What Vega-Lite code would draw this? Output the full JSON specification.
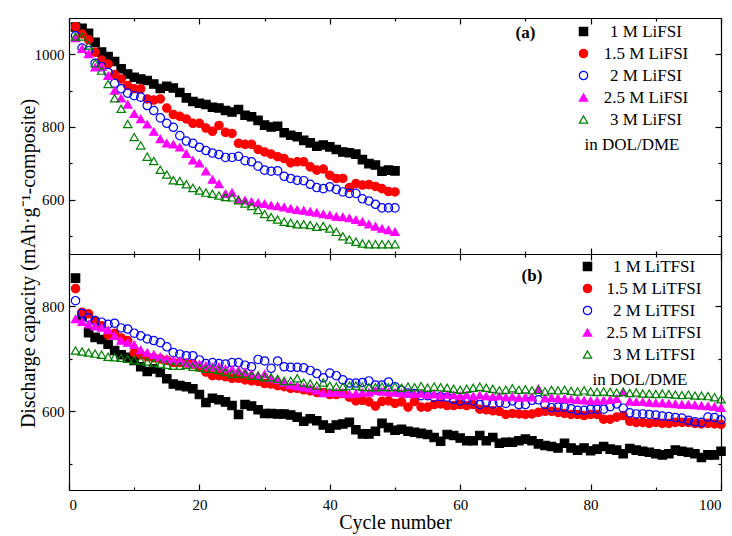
{
"$schema": "https://vega.github.io/schema/vega-lite/v6.json",
"padding": {"left": 18, "top": 17, "right": 5, "bottom": 5},
"background": "white",
"config": {
  "view": {"stroke": null},
  "axis": {"grid": false, "domainColor": "black", "domainWidth": 1.2, "tickColor": "black", "tickWidth": 1.2,
    "labelFont": "Liberation Serif, Times New Roman, serif", "labelFontSize": 15, "labelColor": "black",
    "titleFont": "Liberation Serif, Times New Roman, serif", "titleFontSize": 20, "titleFontWeight": "normal", "titleColor": "black"},
  "legend": {"labelFont": "Liberation Serif, Times New Roman, serif", "labelFontSize": 17, "labelColor": "black", "labelAlign": "center",
    "titleFont": "Liberation Serif, Times New Roman, serif", "titleFontSize": 17, "titleFontWeight": "normal", "titleColor": "black",
    "symbolSize": 70, "symbolStrokeWidth": 1.2, "rowPadding": 4.0, "padding": 0,
    "titleOrient": "bottom", "titlePadding": 9, "titleAnchor": "middle", "orient": "none"}
},
"datasets": {
"a": [
{"series":"1 M LiFSI","cycle":1,"cap":1075},{"series":"1 M LiFSI","cycle":2,"cap":1072},{"series":"1 M LiFSI","cycle":3,"cap":1058},{"series":"1 M LiFSI","cycle":4,"cap":1033},{"series":"1 M LiFSI","cycle":5,"cap":1006},{"series":"1 M LiFSI","cycle":6,"cap":994},{"series":"1 M LiFSI","cycle":7,"cap":980},{"series":"1 M LiFSI","cycle":8,"cap":960},{"series":"1 M LiFSI","cycle":9,"cap":946},{"series":"1 M LiFSI","cycle":10,"cap":937},
{"series":"1 M LiFSI","cycle":11,"cap":932},{"series":"1 M LiFSI","cycle":12,"cap":928},{"series":"1 M LiFSI","cycle":13,"cap":918},{"series":"1 M LiFSI","cycle":14,"cap":906},{"series":"1 M LiFSI","cycle":15,"cap":912},{"series":"1 M LiFSI","cycle":16,"cap":907},{"series":"1 M LiFSI","cycle":17,"cap":895},{"series":"1 M LiFSI","cycle":18,"cap":880},{"series":"1 M LiFSI","cycle":19,"cap":870},{"series":"1 M LiFSI","cycle":20,"cap":865},
{"series":"1 M LiFSI","cycle":21,"cap":862},{"series":"1 M LiFSI","cycle":22,"cap":854},{"series":"1 M LiFSI","cycle":23,"cap":852},{"series":"1 M LiFSI","cycle":24,"cap":845},{"series":"1 M LiFSI","cycle":25,"cap":841},{"series":"1 M LiFSI","cycle":26,"cap":848},{"series":"1 M LiFSI","cycle":27,"cap":832},{"series":"1 M LiFSI","cycle":28,"cap":828},{"series":"1 M LiFSI","cycle":29,"cap":818},{"series":"1 M LiFSI","cycle":30,"cap":805},
{"series":"1 M LiFSI","cycle":31,"cap":800},{"series":"1 M LiFSI","cycle":32,"cap":802},{"series":"1 M LiFSI","cycle":33,"cap":784},{"series":"1 M LiFSI","cycle":34,"cap":777},{"series":"1 M LiFSI","cycle":35,"cap":773},{"series":"1 M LiFSI","cycle":36,"cap":763},{"series":"1 M LiFSI","cycle":37,"cap":756},{"series":"1 M LiFSI","cycle":38,"cap":747},{"series":"1 M LiFSI","cycle":39,"cap":750},{"series":"1 M LiFSI","cycle":40,"cap":745},
{"series":"1 M LiFSI","cycle":41,"cap":738},{"series":"1 M LiFSI","cycle":42,"cap":731},{"series":"1 M LiFSI","cycle":43,"cap":729},{"series":"1 M LiFSI","cycle":44,"cap":725},{"series":"1 M LiFSI","cycle":45,"cap":710},{"series":"1 M LiFSI","cycle":46,"cap":699},{"series":"1 M LiFSI","cycle":47,"cap":695},{"series":"1 M LiFSI","cycle":48,"cap":678},{"series":"1 M LiFSI","cycle":49,"cap":681},{"series":"1 M LiFSI","cycle":50,"cap":679},
{"series":"1.5 M LiFSI","cycle":1,"cap":1076},{"series":"1.5 M LiFSI","cycle":2,"cap":1056},{"series":"1.5 M LiFSI","cycle":3,"cap":1040},{"series":"1.5 M LiFSI","cycle":4,"cap":1006},{"series":"1.5 M LiFSI","cycle":5,"cap":984},{"series":"1.5 M LiFSI","cycle":6,"cap":973},{"series":"1.5 M LiFSI","cycle":7,"cap":944},{"series":"1.5 M LiFSI","cycle":8,"cap":932},{"series":"1.5 M LiFSI","cycle":9,"cap":914},{"series":"1.5 M LiFSI","cycle":10,"cap":905},
{"series":"1.5 M LiFSI","cycle":11,"cap":905},{"series":"1.5 M LiFSI","cycle":12,"cap":877},{"series":"1.5 M LiFSI","cycle":13,"cap":874},{"series":"1.5 M LiFSI","cycle":14,"cap":877},{"series":"1.5 M LiFSI","cycle":15,"cap":852},{"series":"1.5 M LiFSI","cycle":16,"cap":834},{"series":"1.5 M LiFSI","cycle":17,"cap":829},{"series":"1.5 M LiFSI","cycle":18,"cap":822},{"series":"1.5 M LiFSI","cycle":19,"cap":810},{"series":"1.5 M LiFSI","cycle":20,"cap":810},
{"series":"1.5 M LiFSI","cycle":21,"cap":797},{"series":"1.5 M LiFSI","cycle":22,"cap":788},{"series":"1.5 M LiFSI","cycle":23,"cap":804},{"series":"1.5 M LiFSI","cycle":24,"cap":785},{"series":"1.5 M LiFSI","cycle":25,"cap":782},{"series":"1.5 M LiFSI","cycle":26,"cap":755},{"series":"1.5 M LiFSI","cycle":27,"cap":752},{"series":"1.5 M LiFSI","cycle":28,"cap":752},{"series":"1.5 M LiFSI","cycle":29,"cap":738},{"series":"1.5 M LiFSI","cycle":30,"cap":731},
{"series":"1.5 M LiFSI","cycle":31,"cap":725},{"series":"1.5 M LiFSI","cycle":32,"cap":718},{"series":"1.5 M LiFSI","cycle":33,"cap":713},{"series":"1.5 M LiFSI","cycle":34,"cap":701},{"series":"1.5 M LiFSI","cycle":35,"cap":704},{"series":"1.5 M LiFSI","cycle":36,"cap":704},{"series":"1.5 M LiFSI","cycle":37,"cap":690},{"series":"1.5 M LiFSI","cycle":38,"cap":681},{"series":"1.5 M LiFSI","cycle":39,"cap":684},{"series":"1.5 M LiFSI","cycle":40,"cap":667},
{"series":"1.5 M LiFSI","cycle":41,"cap":658},{"series":"1.5 M LiFSI","cycle":42,"cap":658},{"series":"1.5 M LiFSI","cycle":43,"cap":633},{"series":"1.5 M LiFSI","cycle":44,"cap":644},{"series":"1.5 M LiFSI","cycle":45,"cap":640},{"series":"1.5 M LiFSI","cycle":46,"cap":641},{"series":"1.5 M LiFSI","cycle":47,"cap":636},{"series":"1.5 M LiFSI","cycle":48,"cap":630},{"series":"1.5 M LiFSI","cycle":49,"cap":622},{"series":"1.5 M LiFSI","cycle":50,"cap":621},
{"series":"2 M LiFSI","cycle":1,"cap":1051},{"series":"2 M LiFSI","cycle":2,"cap":1017},{"series":"2 M LiFSI","cycle":3,"cap":1010},{"series":"2 M LiFSI","cycle":4,"cap":975},{"series":"2 M LiFSI","cycle":5,"cap":966},{"series":"2 M LiFSI","cycle":6,"cap":950},{"series":"2 M LiFSI","cycle":7,"cap":920},{"series":"2 M LiFSI","cycle":8,"cap":905},{"series":"2 M LiFSI","cycle":9,"cap":893},{"series":"2 M LiFSI","cycle":10,"cap":886},
{"series":"2 M LiFSI","cycle":11,"cap":882},{"series":"2 M LiFSI","cycle":12,"cap":859},{"series":"2 M LiFSI","cycle":13,"cap":845},{"series":"2 M LiFSI","cycle":14,"cap":825},{"series":"2 M LiFSI","cycle":15,"cap":810},{"series":"2 M LiFSI","cycle":16,"cap":799},{"series":"2 M LiFSI","cycle":17,"cap":776},{"series":"2 M LiFSI","cycle":18,"cap":761},{"series":"2 M LiFSI","cycle":19,"cap":755},{"series":"2 M LiFSI","cycle":20,"cap":744},
{"series":"2 M LiFSI","cycle":21,"cap":735},{"series":"2 M LiFSI","cycle":22,"cap":728},{"series":"2 M LiFSI","cycle":23,"cap":724},{"series":"2 M LiFSI","cycle":24,"cap":716},{"series":"2 M LiFSI","cycle":25,"cap":716},{"series":"2 M LiFSI","cycle":26,"cap":719},{"series":"2 M LiFSI","cycle":27,"cap":707},{"series":"2 M LiFSI","cycle":28,"cap":704},{"series":"2 M LiFSI","cycle":29,"cap":692},{"series":"2 M LiFSI","cycle":30,"cap":681},
{"series":"2 M LiFSI","cycle":31,"cap":678},{"series":"2 M LiFSI","cycle":32,"cap":679},{"series":"2 M LiFSI","cycle":33,"cap":664},{"series":"2 M LiFSI","cycle":34,"cap":658},{"series":"2 M LiFSI","cycle":35,"cap":653},{"series":"2 M LiFSI","cycle":36,"cap":652},{"series":"2 M LiFSI","cycle":37,"cap":642},{"series":"2 M LiFSI","cycle":38,"cap":633},{"series":"2 M LiFSI","cycle":39,"cap":630},{"series":"2 M LiFSI","cycle":40,"cap":635},
{"series":"2 M LiFSI","cycle":41,"cap":628},{"series":"2 M LiFSI","cycle":42,"cap":621},{"series":"2 M LiFSI","cycle":43,"cap":617},{"series":"2 M LiFSI","cycle":44,"cap":617},{"series":"2 M LiFSI","cycle":45,"cap":602},{"series":"2 M LiFSI","cycle":46,"cap":596},{"series":"2 M LiFSI","cycle":47,"cap":587},{"series":"2 M LiFSI","cycle":48,"cap":577},{"series":"2 M LiFSI","cycle":49,"cap":577},{"series":"2 M LiFSI","cycle":50,"cap":577},
{"series":"2.5 M LiFSI","cycle":1,"cap":1045},{"series":"2.5 M LiFSI","cycle":2,"cap":1015},{"series":"2.5 M LiFSI","cycle":3,"cap":1001},{"series":"2.5 M LiFSI","cycle":4,"cap":964},{"series":"2.5 M LiFSI","cycle":5,"cap":966},{"series":"2.5 M LiFSI","cycle":6,"cap":941},{"series":"2.5 M LiFSI","cycle":7,"cap":900},{"series":"2.5 M LiFSI","cycle":8,"cap":879},{"series":"2.5 M LiFSI","cycle":9,"cap":862},{"series":"2.5 M LiFSI","cycle":10,"cap":836},
{"series":"2.5 M LiFSI","cycle":11,"cap":822},{"series":"2.5 M LiFSI","cycle":12,"cap":807},{"series":"2.5 M LiFSI","cycle":13,"cap":787},{"series":"2.5 M LiFSI","cycle":14,"cap":767},{"series":"2.5 M LiFSI","cycle":15,"cap":755},{"series":"2.5 M LiFSI","cycle":16,"cap":752},{"series":"2.5 M LiFSI","cycle":17,"cap":744},{"series":"2.5 M LiFSI","cycle":18,"cap":726},{"series":"2.5 M LiFSI","cycle":19,"cap":708},{"series":"2.5 M LiFSI","cycle":20,"cap":700},
{"series":"2.5 M LiFSI","cycle":21,"cap":678},{"series":"2.5 M LiFSI","cycle":22,"cap":655},{"series":"2.5 M LiFSI","cycle":23,"cap":643},{"series":"2.5 M LiFSI","cycle":24,"cap":616},{"series":"2.5 M LiFSI","cycle":25,"cap":619},{"series":"2.5 M LiFSI","cycle":26,"cap":600},{"series":"2.5 M LiFSI","cycle":27,"cap":598},{"series":"2.5 M LiFSI","cycle":28,"cap":594},{"series":"2.5 M LiFSI","cycle":29,"cap":591},{"series":"2.5 M LiFSI","cycle":30,"cap":588},
{"series":"2.5 M LiFSI","cycle":31,"cap":584},{"series":"2.5 M LiFSI","cycle":32,"cap":582},{"series":"2.5 M LiFSI","cycle":33,"cap":579},{"series":"2.5 M LiFSI","cycle":34,"cap":575},{"series":"2.5 M LiFSI","cycle":35,"cap":572},{"series":"2.5 M LiFSI","cycle":36,"cap":570},{"series":"2.5 M LiFSI","cycle":37,"cap":567},{"series":"2.5 M LiFSI","cycle":38,"cap":564},{"series":"2.5 M LiFSI","cycle":39,"cap":560},{"series":"2.5 M LiFSI","cycle":40,"cap":557},
{"series":"2.5 M LiFSI","cycle":41,"cap":553},{"series":"2.5 M LiFSI","cycle":42,"cap":552},{"series":"2.5 M LiFSI","cycle":43,"cap":549},{"series":"2.5 M LiFSI","cycle":44,"cap":544},{"series":"2.5 M LiFSI","cycle":45,"cap":539},{"series":"2.5 M LiFSI","cycle":46,"cap":532},{"series":"2.5 M LiFSI","cycle":47,"cap":526},{"series":"2.5 M LiFSI","cycle":48,"cap":520},{"series":"2.5 M LiFSI","cycle":49,"cap":516},{"series":"2.5 M LiFSI","cycle":50,"cap":511},
{"series":"3 M LiFSI","cycle":1,"cap":1049},{"series":"3 M LiFSI","cycle":2,"cap":1049},{"series":"3 M LiFSI","cycle":3,"cap":1024},{"series":"3 M LiFSI","cycle":4,"cap":975},{"series":"3 M LiFSI","cycle":5,"cap":955},{"series":"3 M LiFSI","cycle":6,"cap":918},{"series":"3 M LiFSI","cycle":7,"cap":879},{"series":"3 M LiFSI","cycle":8,"cap":850},{"series":"3 M LiFSI","cycle":9,"cap":808},{"series":"3 M LiFSI","cycle":10,"cap":772},
{"series":"3 M LiFSI","cycle":11,"cap":749},{"series":"3 M LiFSI","cycle":12,"cap":718},{"series":"3 M LiFSI","cycle":13,"cap":706},{"series":"3 M LiFSI","cycle":14,"cap":682},{"series":"3 M LiFSI","cycle":15,"cap":669},{"series":"3 M LiFSI","cycle":16,"cap":653},{"series":"3 M LiFSI","cycle":17,"cap":651},{"series":"3 M LiFSI","cycle":18,"cap":642},{"series":"3 M LiFSI","cycle":19,"cap":632},{"series":"3 M LiFSI","cycle":20,"cap":625},
{"series":"3 M LiFSI","cycle":21,"cap":619},{"series":"3 M LiFSI","cycle":22,"cap":616},{"series":"3 M LiFSI","cycle":23,"cap":611},{"series":"3 M LiFSI","cycle":24,"cap":607},{"series":"3 M LiFSI","cycle":25,"cap":606},{"series":"3 M LiFSI","cycle":26,"cap":598},{"series":"3 M LiFSI","cycle":27,"cap":589},{"series":"3 M LiFSI","cycle":28,"cap":582},{"series":"3 M LiFSI","cycle":29,"cap":571},{"series":"3 M LiFSI","cycle":30,"cap":560},
{"series":"3 M LiFSI","cycle":31,"cap":552},{"series":"3 M LiFSI","cycle":32,"cap":545},{"series":"3 M LiFSI","cycle":33,"cap":539},{"series":"3 M LiFSI","cycle":34,"cap":536},{"series":"3 M LiFSI","cycle":35,"cap":532},{"series":"3 M LiFSI","cycle":36,"cap":532},{"series":"3 M LiFSI","cycle":37,"cap":530},{"series":"3 M LiFSI","cycle":38,"cap":525},{"series":"3 M LiFSI","cycle":39,"cap":527},{"series":"3 M LiFSI","cycle":40,"cap":520},
{"series":"3 M LiFSI","cycle":41,"cap":511},{"series":"3 M LiFSI","cycle":42,"cap":499},{"series":"3 M LiFSI","cycle":43,"cap":490},{"series":"3 M LiFSI","cycle":44,"cap":484},{"series":"3 M LiFSI","cycle":45,"cap":479},{"series":"3 M LiFSI","cycle":46,"cap":477},{"series":"3 M LiFSI","cycle":47,"cap":477},{"series":"3 M LiFSI","cycle":48,"cap":477},{"series":"3 M LiFSI","cycle":49,"cap":477},{"series":"3 M LiFSI","cycle":50,"cap":477}
],
"b": [
{"series":"1 M LiTFSI","cycle":1,"cap":854},{"series":"1 M LiTFSI","cycle":2,"cap":782},{"series":"1 M LiTFSI","cycle":3,"cap":750},{"series":"1 M LiTFSI","cycle":4,"cap":741},{"series":"1 M LiTFSI","cycle":5,"cap":737},{"series":"1 M LiTFSI","cycle":6,"cap":728},{"series":"1 M LiTFSI","cycle":7,"cap":716},{"series":"1 M LiTFSI","cycle":8,"cap":708},{"series":"1 M LiTFSI","cycle":9,"cap":703},{"series":"1 M LiTFSI","cycle":10,"cap":697},
{"series":"1 M LiTFSI","cycle":11,"cap":685},{"series":"1 M LiTFSI","cycle":12,"cap":676},{"series":"1 M LiTFSI","cycle":13,"cap":681},{"series":"1 M LiTFSI","cycle":14,"cap":674},{"series":"1 M LiTFSI","cycle":15,"cap":662},{"series":"1 M LiTFSI","cycle":16,"cap":652},{"series":"1 M LiTFSI","cycle":17,"cap":649},{"series":"1 M LiTFSI","cycle":18,"cap":647},{"series":"1 M LiTFSI","cycle":19,"cap":643},{"series":"1 M LiTFSI","cycle":20,"cap":632},
{"series":"1 M LiTFSI","cycle":21,"cap":617},{"series":"1 M LiTFSI","cycle":22,"cap":625},{"series":"1 M LiTFSI","cycle":23,"cap":622},{"series":"1 M LiTFSI","cycle":24,"cap":618},{"series":"1 M LiTFSI","cycle":25,"cap":611},{"series":"1 M LiTFSI","cycle":26,"cap":594},{"series":"1 M LiTFSI","cycle":27,"cap":613},{"series":"1 M LiTFSI","cycle":28,"cap":610},{"series":"1 M LiTFSI","cycle":29,"cap":603},{"series":"1 M LiTFSI","cycle":30,"cap":596},
{"series":"1 M LiTFSI","cycle":31,"cap":596},{"series":"1 M LiTFSI","cycle":32,"cap":595},{"series":"1 M LiTFSI","cycle":33,"cap":595},{"series":"1 M LiTFSI","cycle":34,"cap":593},{"series":"1 M LiTFSI","cycle":35,"cap":589},{"series":"1 M LiTFSI","cycle":36,"cap":581},{"series":"1 M LiTFSI","cycle":37,"cap":586},{"series":"1 M LiTFSI","cycle":38,"cap":582},{"series":"1 M LiTFSI","cycle":39,"cap":574},{"series":"1 M LiTFSI","cycle":40,"cap":568},
{"series":"1 M LiTFSI","cycle":41,"cap":574},{"series":"1 M LiTFSI","cycle":42,"cap":576},{"series":"1 M LiTFSI","cycle":43,"cap":579},{"series":"1 M LiTFSI","cycle":44,"cap":565},{"series":"1 M LiTFSI","cycle":45,"cap":557},{"series":"1 M LiTFSI","cycle":46,"cap":557},{"series":"1 M LiTFSI","cycle":47,"cap":562},{"series":"1 M LiTFSI","cycle":48,"cap":577},{"series":"1 M LiTFSI","cycle":49,"cap":569},{"series":"1 M LiTFSI","cycle":50,"cap":564},
{"series":"1 M LiTFSI","cycle":51,"cap":566},{"series":"1 M LiTFSI","cycle":52,"cap":562},{"series":"1 M LiTFSI","cycle":53,"cap":560},{"series":"1 M LiTFSI","cycle":54,"cap":558},{"series":"1 M LiTFSI","cycle":55,"cap":556},{"series":"1 M LiTFSI","cycle":56,"cap":550},{"series":"1 M LiTFSI","cycle":57,"cap":543},{"series":"1 M LiTFSI","cycle":58,"cap":556},{"series":"1 M LiTFSI","cycle":59,"cap":554},{"series":"1 M LiTFSI","cycle":60,"cap":549},
{"series":"1 M LiTFSI","cycle":61,"cap":544},{"series":"1 M LiTFSI","cycle":62,"cap":544},{"series":"1 M LiTFSI","cycle":63,"cap":554},{"series":"1 M LiTFSI","cycle":64,"cap":544},{"series":"1 M LiTFSI","cycle":65,"cap":550},{"series":"1 M LiTFSI","cycle":66,"cap":539},{"series":"1 M LiTFSI","cycle":67,"cap":541},{"series":"1 M LiTFSI","cycle":68,"cap":541},{"series":"1 M LiTFSI","cycle":69,"cap":544},{"series":"1 M LiTFSI","cycle":70,"cap":547},
{"series":"1 M LiTFSI","cycle":71,"cap":544},{"series":"1 M LiTFSI","cycle":72,"cap":538},{"series":"1 M LiTFSI","cycle":73,"cap":535},{"series":"1 M LiTFSI","cycle":74,"cap":533},{"series":"1 M LiTFSI","cycle":75,"cap":530},{"series":"1 M LiTFSI","cycle":76,"cap":539},{"series":"1 M LiTFSI","cycle":77,"cap":530},{"series":"1 M LiTFSI","cycle":78,"cap":526},{"series":"1 M LiTFSI","cycle":79,"cap":530},{"series":"1 M LiTFSI","cycle":80,"cap":525},
{"series":"1 M LiTFSI","cycle":81,"cap":528},{"series":"1 M LiTFSI","cycle":82,"cap":533},{"series":"1 M LiTFSI","cycle":83,"cap":528},{"series":"1 M LiTFSI","cycle":84,"cap":526},{"series":"1 M LiTFSI","cycle":85,"cap":519},{"series":"1 M LiTFSI","cycle":86,"cap":529},{"series":"1 M LiTFSI","cycle":87,"cap":526},{"series":"1 M LiTFSI","cycle":88,"cap":524},{"series":"1 M LiTFSI","cycle":89,"cap":522},{"series":"1 M LiTFSI","cycle":90,"cap":519},
{"series":"1 M LiTFSI","cycle":91,"cap":517},{"series":"1 M LiTFSI","cycle":92,"cap":519},{"series":"1 M LiTFSI","cycle":93,"cap":526},{"series":"1 M LiTFSI","cycle":94,"cap":524},{"series":"1 M LiTFSI","cycle":95,"cap":522},{"series":"1 M LiTFSI","cycle":96,"cap":519},{"series":"1 M LiTFSI","cycle":97,"cap":512},{"series":"1 M LiTFSI","cycle":98,"cap":517},{"series":"1 M LiTFSI","cycle":99,"cap":517},{"series":"1 M LiTFSI","cycle":100,"cap":524},
{"series":"1.5 M LiTFSI","cycle":1,"cap":834},{"series":"1.5 M LiTFSI","cycle":2,"cap":789},{"series":"1.5 M LiTFSI","cycle":3,"cap":786},{"series":"1.5 M LiTFSI","cycle":4,"cap":773},{"series":"1.5 M LiTFSI","cycle":5,"cap":763},{"series":"1.5 M LiTFSI","cycle":6,"cap":746},{"series":"1.5 M LiTFSI","cycle":7,"cap":749},{"series":"1.5 M LiTFSI","cycle":8,"cap":740},{"series":"1.5 M LiTFSI","cycle":9,"cap":735},{"series":"1.5 M LiTFSI","cycle":10,"cap":712},
{"series":"1.5 M LiTFSI","cycle":11,"cap":708},{"series":"1.5 M LiTFSI","cycle":12,"cap":704},{"series":"1.5 M LiTFSI","cycle":13,"cap":702},{"series":"1.5 M LiTFSI","cycle":14,"cap":700},{"series":"1.5 M LiTFSI","cycle":15,"cap":697},{"series":"1.5 M LiTFSI","cycle":16,"cap":693},{"series":"1.5 M LiTFSI","cycle":17,"cap":693},{"series":"1.5 M LiTFSI","cycle":18,"cap":692},{"series":"1.5 M LiTFSI","cycle":19,"cap":690},{"series":"1.5 M LiTFSI","cycle":20,"cap":684},
{"series":"1.5 M LiTFSI","cycle":21,"cap":675},{"series":"1.5 M LiTFSI","cycle":22,"cap":668},{"series":"1.5 M LiTFSI","cycle":23,"cap":668},{"series":"1.5 M LiTFSI","cycle":24,"cap":666},{"series":"1.5 M LiTFSI","cycle":25,"cap":663},{"series":"1.5 M LiTFSI","cycle":26,"cap":663},{"series":"1.5 M LiTFSI","cycle":27,"cap":660},{"series":"1.5 M LiTFSI","cycle":28,"cap":658},{"series":"1.5 M LiTFSI","cycle":29,"cap":657},{"series":"1.5 M LiTFSI","cycle":30,"cap":653},
{"series":"1.5 M LiTFSI","cycle":31,"cap":652},{"series":"1.5 M LiTFSI","cycle":32,"cap":649},{"series":"1.5 M LiTFSI","cycle":33,"cap":647},{"series":"1.5 M LiTFSI","cycle":34,"cap":644},{"series":"1.5 M LiTFSI","cycle":35,"cap":644},{"series":"1.5 M LiTFSI","cycle":36,"cap":641},{"series":"1.5 M LiTFSI","cycle":37,"cap":639},{"series":"1.5 M LiTFSI","cycle":38,"cap":636},{"series":"1.5 M LiTFSI","cycle":39,"cap":636},{"series":"1.5 M LiTFSI","cycle":40,"cap":632},
{"series":"1.5 M LiTFSI","cycle":41,"cap":632},{"series":"1.5 M LiTFSI","cycle":42,"cap":634},{"series":"1.5 M LiTFSI","cycle":43,"cap":627},{"series":"1.5 M LiTFSI","cycle":44,"cap":620},{"series":"1.5 M LiTFSI","cycle":45,"cap":621},{"series":"1.5 M LiTFSI","cycle":46,"cap":618},{"series":"1.5 M LiTFSI","cycle":47,"cap":610},{"series":"1.5 M LiTFSI","cycle":48,"cap":619},{"series":"1.5 M LiTFSI","cycle":49,"cap":620},{"series":"1.5 M LiTFSI","cycle":50,"cap":615},
{"series":"1.5 M LiTFSI","cycle":51,"cap":618},{"series":"1.5 M LiTFSI","cycle":52,"cap":608},{"series":"1.5 M LiTFSI","cycle":53,"cap":619},{"series":"1.5 M LiTFSI","cycle":54,"cap":608},{"series":"1.5 M LiTFSI","cycle":55,"cap":608},{"series":"1.5 M LiTFSI","cycle":56,"cap":613},{"series":"1.5 M LiTFSI","cycle":57,"cap":614},{"series":"1.5 M LiTFSI","cycle":58,"cap":611},{"series":"1.5 M LiTFSI","cycle":59,"cap":611},{"series":"1.5 M LiTFSI","cycle":60,"cap":613},
{"series":"1.5 M LiTFSI","cycle":61,"cap":611},{"series":"1.5 M LiTFSI","cycle":62,"cap":613},{"series":"1.5 M LiTFSI","cycle":63,"cap":604},{"series":"1.5 M LiTFSI","cycle":64,"cap":603},{"series":"1.5 M LiTFSI","cycle":65,"cap":601},{"series":"1.5 M LiTFSI","cycle":66,"cap":600},{"series":"1.5 M LiTFSI","cycle":67,"cap":594},{"series":"1.5 M LiTFSI","cycle":68,"cap":596},{"series":"1.5 M LiTFSI","cycle":69,"cap":595},{"series":"1.5 M LiTFSI","cycle":70,"cap":594},
{"series":"1.5 M LiTFSI","cycle":71,"cap":595},{"series":"1.5 M LiTFSI","cycle":72,"cap":598},{"series":"1.5 M LiTFSI","cycle":73,"cap":600},{"series":"1.5 M LiTFSI","cycle":74,"cap":600},{"series":"1.5 M LiTFSI","cycle":75,"cap":598},{"series":"1.5 M LiTFSI","cycle":76,"cap":596},{"series":"1.5 M LiTFSI","cycle":77,"cap":594},{"series":"1.5 M LiTFSI","cycle":78,"cap":594},{"series":"1.5 M LiTFSI","cycle":79,"cap":592},{"series":"1.5 M LiTFSI","cycle":80,"cap":594},
{"series":"1.5 M LiTFSI","cycle":81,"cap":594},{"series":"1.5 M LiTFSI","cycle":82,"cap":585},{"series":"1.5 M LiTFSI","cycle":83,"cap":585},{"series":"1.5 M LiTFSI","cycle":84,"cap":589},{"series":"1.5 M LiTFSI","cycle":85,"cap":592},{"series":"1.5 M LiTFSI","cycle":86,"cap":581},{"series":"1.5 M LiTFSI","cycle":87,"cap":579},{"series":"1.5 M LiTFSI","cycle":88,"cap":579},{"series":"1.5 M LiTFSI","cycle":89,"cap":577},{"series":"1.5 M LiTFSI","cycle":90,"cap":579},
{"series":"1.5 M LiTFSI","cycle":91,"cap":577},{"series":"1.5 M LiTFSI","cycle":92,"cap":577},{"series":"1.5 M LiTFSI","cycle":93,"cap":579},{"series":"1.5 M LiTFSI","cycle":94,"cap":579},{"series":"1.5 M LiTFSI","cycle":95,"cap":579},{"series":"1.5 M LiTFSI","cycle":96,"cap":577},{"series":"1.5 M LiTFSI","cycle":97,"cap":576},{"series":"1.5 M LiTFSI","cycle":98,"cap":577},{"series":"1.5 M LiTFSI","cycle":99,"cap":576},{"series":"1.5 M LiTFSI","cycle":100,"cap":575},
{"series":"2 M LiTFSI","cycle":1,"cap":811},{"series":"2 M LiTFSI","cycle":2,"cap":787},{"series":"2 M LiTFSI","cycle":3,"cap":778},{"series":"2 M LiTFSI","cycle":4,"cap":773},{"series":"2 M LiTFSI","cycle":5,"cap":770},{"series":"2 M LiTFSI","cycle":6,"cap":766},{"series":"2 M LiTFSI","cycle":7,"cap":768},{"series":"2 M LiTFSI","cycle":8,"cap":759},{"series":"2 M LiTFSI","cycle":9,"cap":757},{"series":"2 M LiTFSI","cycle":10,"cap":749},
{"series":"2 M LiTFSI","cycle":11,"cap":744},{"series":"2 M LiTFSI","cycle":12,"cap":738},{"series":"2 M LiTFSI","cycle":13,"cap":735},{"series":"2 M LiTFSI","cycle":14,"cap":731},{"series":"2 M LiTFSI","cycle":15,"cap":723},{"series":"2 M LiTFSI","cycle":16,"cap":712},{"series":"2 M LiTFSI","cycle":17,"cap":709},{"series":"2 M LiTFSI","cycle":18,"cap":706},{"series":"2 M LiTFSI","cycle":19,"cap":706},{"series":"2 M LiTFSI","cycle":20,"cap":698},
{"series":"2 M LiTFSI","cycle":21,"cap":691},{"series":"2 M LiTFSI","cycle":22,"cap":693},{"series":"2 M LiTFSI","cycle":23,"cap":691},{"series":"2 M LiTFSI","cycle":24,"cap":690},{"series":"2 M LiTFSI","cycle":25,"cap":693},{"series":"2 M LiTFSI","cycle":26,"cap":693},{"series":"2 M LiTFSI","cycle":27,"cap":688},{"series":"2 M LiTFSI","cycle":28,"cap":685},{"series":"2 M LiTFSI","cycle":29,"cap":699},{"series":"2 M LiTFSI","cycle":30,"cap":696},
{"series":"2 M LiTFSI","cycle":31,"cap":682},{"series":"2 M LiTFSI","cycle":32,"cap":696},{"series":"2 M LiTFSI","cycle":33,"cap":685},{"series":"2 M LiTFSI","cycle":34,"cap":684},{"series":"2 M LiTFSI","cycle":35,"cap":684},{"series":"2 M LiTFSI","cycle":36,"cap":683},{"series":"2 M LiTFSI","cycle":37,"cap":678},{"series":"2 M LiTFSI","cycle":38,"cap":672},{"series":"2 M LiTFSI","cycle":39,"cap":664},{"series":"2 M LiTFSI","cycle":40,"cap":673},
{"series":"2 M LiTFSI","cycle":41,"cap":668},{"series":"2 M LiTFSI","cycle":42,"cap":660},{"series":"2 M LiTFSI","cycle":43,"cap":654},{"series":"2 M LiTFSI","cycle":44,"cap":654},{"series":"2 M LiTFSI","cycle":45,"cap":655},{"series":"2 M LiTFSI","cycle":46,"cap":658},{"series":"2 M LiTFSI","cycle":47,"cap":650},{"series":"2 M LiTFSI","cycle":48,"cap":650},{"series":"2 M LiTFSI","cycle":49,"cap":656},{"series":"2 M LiTFSI","cycle":50,"cap":647},
{"series":"2 M LiTFSI","cycle":51,"cap":640},{"series":"2 M LiTFSI","cycle":52,"cap":635},{"series":"2 M LiTFSI","cycle":53,"cap":634},{"series":"2 M LiTFSI","cycle":54,"cap":630},{"series":"2 M LiTFSI","cycle":55,"cap":630},{"series":"2 M LiTFSI","cycle":56,"cap":627},{"series":"2 M LiTFSI","cycle":57,"cap":628},{"series":"2 M LiTFSI","cycle":58,"cap":627},{"series":"2 M LiTFSI","cycle":59,"cap":623},{"series":"2 M LiTFSI","cycle":60,"cap":620},
{"series":"2 M LiTFSI","cycle":61,"cap":622},{"series":"2 M LiTFSI","cycle":62,"cap":620},{"series":"2 M LiTFSI","cycle":63,"cap":613},{"series":"2 M LiTFSI","cycle":64,"cap":617},{"series":"2 M LiTFSI","cycle":65,"cap":614},{"series":"2 M LiTFSI","cycle":66,"cap":617},{"series":"2 M LiTFSI","cycle":67,"cap":615},{"series":"2 M LiTFSI","cycle":68,"cap":620},{"series":"2 M LiTFSI","cycle":69,"cap":613},{"series":"2 M LiTFSI","cycle":70,"cap":613},
{"series":"2 M LiTFSI","cycle":71,"cap":621},{"series":"2 M LiTFSI","cycle":72,"cap":622},{"series":"2 M LiTFSI","cycle":73,"cap":613},{"series":"2 M LiTFSI","cycle":74,"cap":607},{"series":"2 M LiTFSI","cycle":75,"cap":608},{"series":"2 M LiTFSI","cycle":76,"cap":608},{"series":"2 M LiTFSI","cycle":77,"cap":605},{"series":"2 M LiTFSI","cycle":78,"cap":602},{"series":"2 M LiTFSI","cycle":79,"cap":602},{"series":"2 M LiTFSI","cycle":80,"cap":604},
{"series":"2 M LiTFSI","cycle":81,"cap":604},{"series":"2 M LiTFSI","cycle":82,"cap":604},{"series":"2 M LiTFSI","cycle":83,"cap":609},{"series":"2 M LiTFSI","cycle":84,"cap":614},{"series":"2 M LiTFSI","cycle":85,"cap":606},{"series":"2 M LiTFSI","cycle":86,"cap":597},{"series":"2 M LiTFSI","cycle":87,"cap":595},{"series":"2 M LiTFSI","cycle":88,"cap":595},{"series":"2 M LiTFSI","cycle":89,"cap":594},{"series":"2 M LiTFSI","cycle":90,"cap":593},
{"series":"2 M LiTFSI","cycle":91,"cap":591},{"series":"2 M LiTFSI","cycle":92,"cap":590},{"series":"2 M LiTFSI","cycle":93,"cap":588},{"series":"2 M LiTFSI","cycle":94,"cap":587},{"series":"2 M LiTFSI","cycle":95,"cap":583},{"series":"2 M LiTFSI","cycle":96,"cap":580},{"series":"2 M LiTFSI","cycle":97,"cap":579},{"series":"2 M LiTFSI","cycle":98,"cap":589},{"series":"2 M LiTFSI","cycle":99,"cap":588},{"series":"2 M LiTFSI","cycle":100,"cap":584},
{"series":"2.5 M LiTFSI","cycle":1,"cap":776},{"series":"2.5 M LiTFSI","cycle":2,"cap":771},{"series":"2.5 M LiTFSI","cycle":3,"cap":766},{"series":"2.5 M LiTFSI","cycle":4,"cap":762},{"series":"2.5 M LiTFSI","cycle":5,"cap":760},{"series":"2.5 M LiTFSI","cycle":6,"cap":755},{"series":"2.5 M LiTFSI","cycle":7,"cap":744},{"series":"2.5 M LiTFSI","cycle":8,"cap":735},{"series":"2.5 M LiTFSI","cycle":9,"cap":731},{"series":"2.5 M LiTFSI","cycle":10,"cap":727},
{"series":"2.5 M LiTFSI","cycle":11,"cap":717},{"series":"2.5 M LiTFSI","cycle":12,"cap":712},{"series":"2.5 M LiTFSI","cycle":13,"cap":708},{"series":"2.5 M LiTFSI","cycle":14,"cap":704},{"series":"2.5 M LiTFSI","cycle":15,"cap":700},{"series":"2.5 M LiTFSI","cycle":16,"cap":698},{"series":"2.5 M LiTFSI","cycle":17,"cap":697},{"series":"2.5 M LiTFSI","cycle":18,"cap":693},{"series":"2.5 M LiTFSI","cycle":19,"cap":691},{"series":"2.5 M LiTFSI","cycle":20,"cap":690},
{"series":"2.5 M LiTFSI","cycle":21,"cap":687},{"series":"2.5 M LiTFSI","cycle":22,"cap":685},{"series":"2.5 M LiTFSI","cycle":23,"cap":685},{"series":"2.5 M LiTFSI","cycle":24,"cap":681},{"series":"2.5 M LiTFSI","cycle":25,"cap":680},{"series":"2.5 M LiTFSI","cycle":26,"cap":678},{"series":"2.5 M LiTFSI","cycle":27,"cap":675},{"series":"2.5 M LiTFSI","cycle":28,"cap":672},{"series":"2.5 M LiTFSI","cycle":29,"cap":668},{"series":"2.5 M LiTFSI","cycle":30,"cap":671},
{"series":"2.5 M LiTFSI","cycle":31,"cap":663},{"series":"2.5 M LiTFSI","cycle":32,"cap":660},{"series":"2.5 M LiTFSI","cycle":33,"cap":655},{"series":"2.5 M LiTFSI","cycle":34,"cap":650},{"series":"2.5 M LiTFSI","cycle":35,"cap":648},{"series":"2.5 M LiTFSI","cycle":36,"cap":646},{"series":"2.5 M LiTFSI","cycle":37,"cap":644},{"series":"2.5 M LiTFSI","cycle":38,"cap":640},{"series":"2.5 M LiTFSI","cycle":39,"cap":635},{"series":"2.5 M LiTFSI","cycle":40,"cap":636},
{"series":"2.5 M LiTFSI","cycle":41,"cap":636},{"series":"2.5 M LiTFSI","cycle":42,"cap":635},{"series":"2.5 M LiTFSI","cycle":43,"cap":633},{"series":"2.5 M LiTFSI","cycle":44,"cap":634},{"series":"2.5 M LiTFSI","cycle":45,"cap":636},{"series":"2.5 M LiTFSI","cycle":46,"cap":636},{"series":"2.5 M LiTFSI","cycle":47,"cap":639},{"series":"2.5 M LiTFSI","cycle":48,"cap":638},{"series":"2.5 M LiTFSI","cycle":49,"cap":637},{"series":"2.5 M LiTFSI","cycle":50,"cap":636},
{"series":"2.5 M LiTFSI","cycle":51,"cap":635},{"series":"2.5 M LiTFSI","cycle":52,"cap":634},{"series":"2.5 M LiTFSI","cycle":53,"cap":633},{"series":"2.5 M LiTFSI","cycle":54,"cap":634},{"series":"2.5 M LiTFSI","cycle":55,"cap":632},{"series":"2.5 M LiTFSI","cycle":56,"cap":633},{"series":"2.5 M LiTFSI","cycle":57,"cap":631},{"series":"2.5 M LiTFSI","cycle":58,"cap":632},{"series":"2.5 M LiTFSI","cycle":59,"cap":631},{"series":"2.5 M LiTFSI","cycle":60,"cap":630},
{"series":"2.5 M LiTFSI","cycle":61,"cap":631},{"series":"2.5 M LiTFSI","cycle":62,"cap":629},{"series":"2.5 M LiTFSI","cycle":63,"cap":631},{"series":"2.5 M LiTFSI","cycle":64,"cap":629},{"series":"2.5 M LiTFSI","cycle":65,"cap":628},{"series":"2.5 M LiTFSI","cycle":66,"cap":629},{"series":"2.5 M LiTFSI","cycle":67,"cap":627},{"series":"2.5 M LiTFSI","cycle":68,"cap":628},{"series":"2.5 M LiTFSI","cycle":69,"cap":626},{"series":"2.5 M LiTFSI","cycle":70,"cap":627},
{"series":"2.5 M LiTFSI","cycle":71,"cap":627},{"series":"2.5 M LiTFSI","cycle":72,"cap":643},{"series":"2.5 M LiTFSI","cycle":73,"cap":625},{"series":"2.5 M LiTFSI","cycle":74,"cap":626},{"series":"2.5 M LiTFSI","cycle":75,"cap":625},{"series":"2.5 M LiTFSI","cycle":76,"cap":624},{"series":"2.5 M LiTFSI","cycle":77,"cap":623},{"series":"2.5 M LiTFSI","cycle":78,"cap":622},{"series":"2.5 M LiTFSI","cycle":79,"cap":621},{"series":"2.5 M LiTFSI","cycle":80,"cap":620},
{"series":"2.5 M LiTFSI","cycle":81,"cap":620},{"series":"2.5 M LiTFSI","cycle":82,"cap":621},{"series":"2.5 M LiTFSI","cycle":83,"cap":622},{"series":"2.5 M LiTFSI","cycle":84,"cap":624},{"series":"2.5 M LiTFSI","cycle":85,"cap":637},{"series":"2.5 M LiTFSI","cycle":86,"cap":619},{"series":"2.5 M LiTFSI","cycle":87,"cap":618},{"series":"2.5 M LiTFSI","cycle":88,"cap":618},{"series":"2.5 M LiTFSI","cycle":89,"cap":617},{"series":"2.5 M LiTFSI","cycle":90,"cap":616},
{"series":"2.5 M LiTFSI","cycle":91,"cap":616},{"series":"2.5 M LiTFSI","cycle":92,"cap":615},{"series":"2.5 M LiTFSI","cycle":93,"cap":614},{"series":"2.5 M LiTFSI","cycle":94,"cap":613},{"series":"2.5 M LiTFSI","cycle":95,"cap":613},{"series":"2.5 M LiTFSI","cycle":96,"cap":612},{"series":"2.5 M LiTFSI","cycle":97,"cap":611},{"series":"2.5 M LiTFSI","cycle":98,"cap":610},{"series":"2.5 M LiTFSI","cycle":99,"cap":609},{"series":"2.5 M LiTFSI","cycle":100,"cap":607},
{"series":"3 M LiTFSI","cycle":1,"cap":716},{"series":"3 M LiTFSI","cycle":2,"cap":714},{"series":"3 M LiTFSI","cycle":3,"cap":712},{"series":"3 M LiTFSI","cycle":4,"cap":710},{"series":"3 M LiTFSI","cycle":5,"cap":708},{"series":"3 M LiTFSI","cycle":6,"cap":704},{"series":"3 M LiTFSI","cycle":7,"cap":703},{"series":"3 M LiTFSI","cycle":8,"cap":702},{"series":"3 M LiTFSI","cycle":9,"cap":700},{"series":"3 M LiTFSI","cycle":10,"cap":698},
{"series":"3 M LiTFSI","cycle":11,"cap":697},{"series":"3 M LiTFSI","cycle":12,"cap":695},{"series":"3 M LiTFSI","cycle":13,"cap":693},{"series":"3 M LiTFSI","cycle":14,"cap":691},{"series":"3 M LiTFSI","cycle":15,"cap":689},{"series":"3 M LiTFSI","cycle":16,"cap":687},{"series":"3 M LiTFSI","cycle":17,"cap":687},{"series":"3 M LiTFSI","cycle":18,"cap":689},{"series":"3 M LiTFSI","cycle":19,"cap":685},{"series":"3 M LiTFSI","cycle":20,"cap":684},
{"series":"3 M LiTFSI","cycle":21,"cap":681},{"series":"3 M LiTFSI","cycle":22,"cap":681},{"series":"3 M LiTFSI","cycle":23,"cap":679},{"series":"3 M LiTFSI","cycle":24,"cap":675},{"series":"3 M LiTFSI","cycle":25,"cap":671},{"series":"3 M LiTFSI","cycle":26,"cap":672},{"series":"3 M LiTFSI","cycle":27,"cap":671},{"series":"3 M LiTFSI","cycle":28,"cap":668},{"series":"3 M LiTFSI","cycle":29,"cap":668},{"series":"3 M LiTFSI","cycle":30,"cap":665},
{"series":"3 M LiTFSI","cycle":31,"cap":665},{"series":"3 M LiTFSI","cycle":32,"cap":662},{"series":"3 M LiTFSI","cycle":33,"cap":658},{"series":"3 M LiTFSI","cycle":34,"cap":658},{"series":"3 M LiTFSI","cycle":35,"cap":663},{"series":"3 M LiTFSI","cycle":36,"cap":655},{"series":"3 M LiTFSI","cycle":37,"cap":653},{"series":"3 M LiTFSI","cycle":38,"cap":649},{"series":"3 M LiTFSI","cycle":39,"cap":655},{"series":"3 M LiTFSI","cycle":40,"cap":649},
{"series":"3 M LiTFSI","cycle":41,"cap":647},{"series":"3 M LiTFSI","cycle":42,"cap":647},{"series":"3 M LiTFSI","cycle":43,"cap":649},{"series":"3 M LiTFSI","cycle":44,"cap":649},{"series":"3 M LiTFSI","cycle":45,"cap":647},{"series":"3 M LiTFSI","cycle":46,"cap":646},{"series":"3 M LiTFSI","cycle":47,"cap":646},{"series":"3 M LiTFSI","cycle":48,"cap":647},{"series":"3 M LiTFSI","cycle":49,"cap":646},{"series":"3 M LiTFSI","cycle":50,"cap":647},
{"series":"3 M LiTFSI","cycle":51,"cap":645},{"series":"3 M LiTFSI","cycle":52,"cap":647},{"series":"3 M LiTFSI","cycle":53,"cap":646},{"series":"3 M LiTFSI","cycle":54,"cap":648},{"series":"3 M LiTFSI","cycle":55,"cap":645},{"series":"3 M LiTFSI","cycle":56,"cap":647},{"series":"3 M LiTFSI","cycle":57,"cap":646},{"series":"3 M LiTFSI","cycle":58,"cap":645},{"series":"3 M LiTFSI","cycle":59,"cap":643},{"series":"3 M LiTFSI","cycle":60,"cap":641},
{"series":"3 M LiTFSI","cycle":61,"cap":643},{"series":"3 M LiTFSI","cycle":62,"cap":645},{"series":"3 M LiTFSI","cycle":63,"cap":647},{"series":"3 M LiTFSI","cycle":64,"cap":645},{"series":"3 M LiTFSI","cycle":65,"cap":643},{"series":"3 M LiTFSI","cycle":66,"cap":640},{"series":"3 M LiTFSI","cycle":67,"cap":641},{"series":"3 M LiTFSI","cycle":68,"cap":644},{"series":"3 M LiTFSI","cycle":69,"cap":641},{"series":"3 M LiTFSI","cycle":70,"cap":642},
{"series":"3 M LiTFSI","cycle":71,"cap":640},{"series":"3 M LiTFSI","cycle":72,"cap":641},{"series":"3 M LiTFSI","cycle":73,"cap":638},{"series":"3 M LiTFSI","cycle":74,"cap":641},{"series":"3 M LiTFSI","cycle":75,"cap":640},{"series":"3 M LiTFSI","cycle":76,"cap":641},{"series":"3 M LiTFSI","cycle":77,"cap":639},{"series":"3 M LiTFSI","cycle":78,"cap":638},{"series":"3 M LiTFSI","cycle":79,"cap":640},{"series":"3 M LiTFSI","cycle":80,"cap":638},
{"series":"3 M LiTFSI","cycle":81,"cap":637},{"series":"3 M LiTFSI","cycle":82,"cap":638},{"series":"3 M LiTFSI","cycle":83,"cap":637},{"series":"3 M LiTFSI","cycle":84,"cap":636},{"series":"3 M LiTFSI","cycle":85,"cap":637},{"series":"3 M LiTFSI","cycle":86,"cap":635},{"series":"3 M LiTFSI","cycle":87,"cap":636},{"series":"3 M LiTFSI","cycle":88,"cap":634},{"series":"3 M LiTFSI","cycle":89,"cap":634},{"series":"3 M LiTFSI","cycle":90,"cap":633},
{"series":"3 M LiTFSI","cycle":91,"cap":634},{"series":"3 M LiTFSI","cycle":92,"cap":633},{"series":"3 M LiTFSI","cycle":93,"cap":632},{"series":"3 M LiTFSI","cycle":94,"cap":631},{"series":"3 M LiTFSI","cycle":95,"cap":632},{"series":"3 M LiTFSI","cycle":96,"cap":630},{"series":"3 M LiTFSI","cycle":97,"cap":630},{"series":"3 M LiTFSI","cycle":98,"cap":629},{"series":"3 M LiTFSI","cycle":99,"cap":627},{"series":"3 M LiTFSI","cycle":100,"cap":623}
]
},
"spacing": 0,
"bounds": "flush",
"resolve": {"scale": {"x": "independent", "y": "independent", "stroke": "independent", "fill": "independent", "shape": "independent"}},
"vconcat": [
{
  "width": 652, "height": 236,
  "data": {"name": "a"},
  "layer": [
    {
      "mark": {"type": "point", "opacity": 1, "size": 70, "strokeWidth": 1.2},
      "encoding": {
        "x": {"field": "cycle", "type": "quantitative", "scale": {"domain": [0, 100], "nice": false, "zero": false},
          "axis": {"orient": "bottom", "values": [0,10,20,30,40,50,60,70,80,90,100], "labels": false, "title": null,
            "tickSize": {"condition": {"test": "datum.value % 20 === 0", "value": -6}, "value": -3}}},
        "y": {"field": "cap", "type": "quantitative", "scale": {"domain": [450, 1100], "nice": false, "zero": false},
          "axis": {"orient": "left", "values": [500,600,700,800,900,1000],
            "labelExpr": "datum.value % 200 === 0 ? datum.label : ''",
            "tickSize": {"condition": {"test": "datum.value % 200 === 0", "value": -6}, "value": -3},
            "labelPadding": 11, "format": "d",
            "title": "Discharge capacity (mAh·g⁻¹-composite)", "titleX": -35, "titleY": 245, "titleBaseline": "alphabetic", "titleAngle": -90, "titleAlign": "center"}},
        "stroke": {"field": "series", "type": "nominal",
          "scale": {"domain": ["1 M LiFSI","1.5 M LiFSI","2 M LiFSI","2.5 M LiFSI","3 M LiFSI"], "range": ["#000000","#ff0000","#0000ff","#ff00ff","#008000"]},
          "legend": {"title": "in DOL/DME", "orient": "none", "legendX": 506, "legendY": 5, "labelOffset": 54}},
        "fill": {"field": "series", "type": "nominal",
          "scale": {"domain": ["1 M LiFSI","1.5 M LiFSI","2 M LiFSI","2.5 M LiFSI","3 M LiFSI"], "range": ["#000000","#ff0000","transparent","#ff00ff","transparent"]},
          "legend": {"title": "in DOL/DME", "orient": "none", "legendX": 506, "legendY": 5, "labelOffset": 54}},
        "shape": {"field": "series", "type": "nominal",
          "scale": {"domain": ["1 M LiFSI","1.5 M LiFSI","2 M LiFSI","2.5 M LiFSI","3 M LiFSI"], "range": ["square","circle","circle","triangle-up","triangle-up"]},
          "legend": {"title": "in DOL/DME", "orient": "none", "legendX": 506, "legendY": 5, "labelOffset": 54}}
      }
    },
    {
      "mark": {"type": "point", "opacity": 0},
      "encoding": {
        "x": {"field": "cycle", "type": "quantitative", "scale": {"domain": [0, 100], "nice": false, "zero": false},
          "axis": {"orient": "top", "values": [0,10,20,30,40,50,60,70,80,90,100], "labels": false, "title": null,
            "tickSize": {"condition": {"test": "datum.value % 20 === 0", "value": -6}, "value": -3}}},
        "y": {"field": "cap", "type": "quantitative", "scale": {"domain": [450, 1100], "nice": false, "zero": false},
          "axis": {"orient": "right", "values": [500,600,700,800,900,1000], "labels": false, "title": null,
            "tickSize": {"condition": {"test": "datum.value % 200 === 0", "value": -6}, "value": -3}}}
      }
    },
    {
      "data": {"values": [{}]},
      "mark": {"type": "text", "font": "Liberation Serif, Times New Roman, serif", "fontSize": 17, "fontWeight": "bold", "align": "center", "baseline": "middle", "color": "black"},
      "encoding": {
        "x": {"datum": 70, "type": "quantitative", "scale": {"domain": [0, 100], "nice": false, "zero": false}, "axis": null},
        "y": {"datum": 1058, "type": "quantitative", "scale": {"domain": [450, 1100], "nice": false, "zero": false}, "axis": null},
        "text": {"value": "(a)"}
      }
    }
  ],
  "resolve": {"axis": {"x": "independent", "y": "independent"}}
},
{
  "width": 652, "height": 236,
  "data": {"name": "b"},
  "layer": [
    {
      "mark": {"type": "point", "opacity": 1, "size": 70, "strokeWidth": 1.2},
      "encoding": {
        "x": {"field": "cycle", "type": "quantitative", "scale": {"domain": [0, 100], "nice": false, "zero": false},
          "axis": {"orient": "bottom", "values": [0,10,20,30,40,50,60,70,80,90,100],
            "labelExpr": "datum.value % 20 === 0 ? datum.label : ''",
            "tickSize": {"condition": {"test": "datum.value % 20 === 0", "value": -6}, "value": -3},
            "labelPadding": 13, "title": "Cycle number", "titleBaseline": "alphabetic", "titleY": 38}},
        "y": {"field": "cap", "type": "quantitative", "scale": {"domain": [450, 900], "nice": false, "zero": false},
          "axis": {"orient": "left", "values": [500,600,700,800],
            "labelExpr": "datum.value % 200 === 0 ? datum.label : ''",
            "tickSize": {"condition": {"test": "datum.value % 200 === 0", "value": -6}, "value": -3},
            "labelPadding": 11, "title": null}},
        "stroke": {"field": "series", "type": "nominal",
          "scale": {"domain": ["1 M LiTFSI","1.5 M LiTFSI","2 M LiTFSI","2.5 M LiTFSI","3 M LiTFSI"], "range": ["#000000","#ff0000","#0000ff","#ff00ff","#008000"]},
          "legend": {"title": "in DOL/DME", "orient": "none", "legendX": 510, "legendY": 4, "labelOffset": 58}},
        "fill": {"field": "series", "type": "nominal",
          "scale": {"domain": ["1 M LiTFSI","1.5 M LiTFSI","2 M LiTFSI","2.5 M LiTFSI","3 M LiTFSI"], "range": ["#000000","#ff0000","transparent","#ff00ff","transparent"]},
          "legend": {"title": "in DOL/DME", "orient": "none", "legendX": 510, "legendY": 4, "labelOffset": 58}},
        "shape": {"field": "series", "type": "nominal",
          "scale": {"domain": ["1 M LiTFSI","1.5 M LiTFSI","2 M LiTFSI","2.5 M LiTFSI","3 M LiTFSI"], "range": ["square","circle","circle","triangle-up","triangle-up"]},
          "legend": {"title": "in DOL/DME", "orient": "none", "legendX": 510, "legendY": 4, "labelOffset": 58}}
      }
    },
    {
      "mark": {"type": "point", "opacity": 0},
      "encoding": {
        "x": {"field": "cycle", "type": "quantitative", "scale": {"domain": [0, 100], "nice": false, "zero": false},
          "axis": {"orient": "top", "values": [0,10,20,30,40,50,60,70,80,90,100], "labels": false, "title": null,
            "tickSize": {"condition": {"test": "datum.value % 20 === 0", "value": -6}, "value": -3}}},
        "y": {"field": "cap", "type": "quantitative", "scale": {"domain": [450, 900], "nice": false, "zero": false},
          "axis": {"orient": "right", "values": [500,600,700,800], "labels": false, "title": null,
            "tickSize": {"condition": {"test": "datum.value % 200 === 0", "value": -6}, "value": -3}}}
      }
    },
    {
      "data": {"values": [{}]},
      "mark": {"type": "text", "font": "Liberation Serif, Times New Roman, serif", "fontSize": 17, "fontWeight": "bold", "align": "center", "baseline": "middle", "color": "black"},
      "encoding": {
        "x": {"datum": 71, "type": "quantitative", "scale": {"domain": [0, 100], "nice": false, "zero": false}, "axis": null},
        "y": {"datum": 858, "type": "quantitative", "scale": {"domain": [450, 900], "nice": false, "zero": false}, "axis": null},
        "text": {"value": "(b)"}
      }
    }
  ],
  "resolve": {"axis": {"x": "independent", "y": "independent"}}
}
]
}
